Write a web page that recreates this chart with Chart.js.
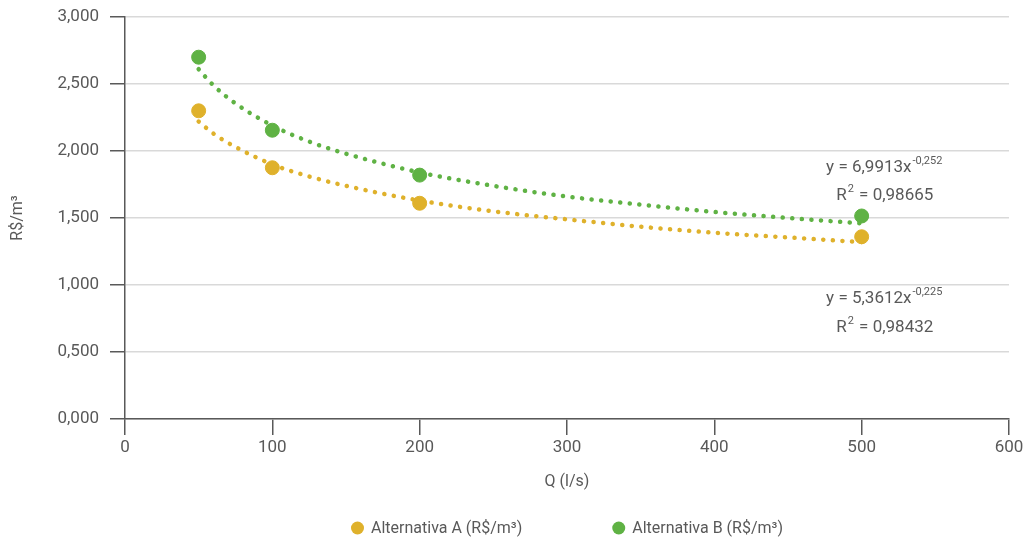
<!DOCTYPE html>
<html>
<head>
<meta charset="utf-8">
<script src="https://cdn.jsdelivr.net/npm/chart.js@4.4.1/dist/chart.umd.min.js"></script>
<style>
  html, body { margin: 0; padding: 0; background: #fff; }
  #wrap { width: 1034px; height: 542px; position: relative; }
</style>
</head>
<body>
<div id="wrap"><canvas id="chart"></canvas></div>
<script>
// observed points
const qValues = [50, 100, 200, 500];
const altA = [2.30, 1.875, 1.61, 1.36];
const altB = [2.70, 2.155, 1.82, 1.515];

// trend curves
const trendQ = [50, 60, 75, 100, 125, 150, 200, 250, 300, 350, 400, 450, 500];
const trendA = [2.22, 2.13, 2.03, 1.90, 1.81, 1.74, 1.63, 1.55, 1.49, 1.435, 1.39, 1.355, 1.32];
const trendB = [2.61, 2.49, 2.355, 2.19, 2.07, 1.98, 1.84, 1.74, 1.66, 1.60, 1.545, 1.50, 1.46];

const xTicks = [0, 100, 200, 300, 400, 500, 600];
const yTicks = [0, 0.5, 1, 1.5, 2, 2.5, 3];

const legendLabels = ['Alternativa A (R$/m³)', 'Alternativa B (R$/m³)'];
const eqA = ['y = 5,3612x', '-0,225', 'R', '2', ' = 0,98432'];
const eqB = ['y = 6,9913x', '-0,252', 'R', '2', ' = 0,98665'];

const colorA = '#DFB12B';
const colorB = '#5FB244';
const textColor = '#595959';
const FONT = "'Roboto', sans-serif";

Chart.defaults.font.family = FONT;
Chart.defaults.color = textColor;

const toXY = (xs, ys) => xs.map((x, i) => ({ x: x, y: ys[i] }));

// equation labels near the last point of each series
const equationPlugin = {
    id: 'equations',
    afterDatasetsDraw(chart) {
        const ctx = chart.ctx;
        const cx = chart.scales.x.getPixelForValue(515);
        const big = '17px ' + FONT;
        const small = '11px ' + FONT;
        function drawEq(parts, y1, y2) {
            ctx.save();
            ctx.fillStyle = textColor;
            ctx.textBaseline = 'alphabetic';
            ctx.font = big;
            const w1 = ctx.measureText(parts[0]).width;
            ctx.font = small;
            const w1s = ctx.measureText(parts[1]).width;
            let x = cx - (w1 + w1s) / 2;
            ctx.font = big;
            ctx.fillText(parts[0], x, y1);
            ctx.font = small;
            ctx.fillText(parts[1], x + w1 + 1, y1 - 8);

            ctx.font = big;
            const wR = ctx.measureText(parts[2]).width;
            const wRest = ctx.measureText(parts[4]).width;
            ctx.font = small;
            const w2 = ctx.measureText(parts[3]).width;
            x = cx - (wR + w2 + wRest) / 2;
            ctx.font = big;
            ctx.fillText(parts[2], x, y2);
            ctx.font = small;
            ctx.fillText(parts[3], x + wR + 1, y2 - 8);
            ctx.font = big;
            ctx.fillText(parts[4], x + wR + w2 + 2, y2);
            ctx.restore();
        }
        drawEq(eqB, 172, 200);
        drawEq(eqA, 303, 332);
    }
};

// legend below the x axis title, centred on the plot area
const legendPlugin = {
    id: 'bottomLegend',
    afterDraw(chart) {
        const ctx = chart.ctx;
        const area = chart.chartArea;
        const sets = chart.data.datasets.slice(0, 2);
        const r = 6.5, gapText = 7, gapItem = 90;
        ctx.save();
        ctx.font = '16px ' + FONT;
        ctx.textBaseline = 'middle';
        const widths = sets.map(d => ctx.measureText(d.label).width);
        const total = widths.reduce((s, w) => s + 2 * r + gapText + w, 0) + gapItem;
        let x = (area.left + area.right) / 2 - total / 2;
        const y = 528;
        sets.forEach((d, i) => {
            ctx.fillStyle = d.backgroundColor;
            ctx.beginPath();
            ctx.arc(x + r, y, r, 0, Math.PI * 2);
            ctx.fill();
            ctx.fillStyle = textColor;
            ctx.fillText(d.label, x + 2 * r + gapText, y + 1);
            x += 2 * r + gapText + widths[i] + gapItem;
        });
        ctx.restore();
    }
};

new Chart(document.getElementById('chart'), {
    type: 'scatter',
    data: {
        datasets: [
            {
                label: legendLabels[0],
                data: toXY(qValues, altA),
                backgroundColor: colorA,
                borderColor: colorA,
                pointRadius: 7,
                pointHoverRadius: 7,
                order: 1
            },
            {
                label: legendLabels[1],
                data: toXY(qValues, altB),
                backgroundColor: colorB,
                borderColor: colorB,
                pointRadius: 7,
                pointHoverRadius: 7,
                order: 1
            },
            {
                label: 'trendA',
                type: 'line',
                data: toXY(trendQ, trendA),
                borderColor: colorA,
                borderWidth: 4.5,
                borderDash: [0.1, 9.5],
                borderCapStyle: 'round',
                pointRadius: 0,
                cubicInterpolationMode: 'monotone',
                fill: false,
                order: 2
            },
            {
                label: 'trendB',
                type: 'line',
                data: toXY(trendQ, trendB),
                borderColor: colorB,
                borderWidth: 4.5,
                borderDash: [0.1, 9.5],
                borderCapStyle: 'round',
                pointRadius: 0,
                cubicInterpolationMode: 'monotone',
                fill: false,
                order: 2
            }
        ]
    },
    options: {
        responsive: true,
        maintainAspectRatio: false,
        animation: false,
        layout: { padding: { left: 0, right: 25, top: 0, bottom: 45 } },
        plugins: {
            tooltip: { enabled: false },
            legend: { display: false }
        },
        scales: {
            x: {
                type: 'linear',
                min: 0,
                max: 600,
                afterBuildTicks: axis => { axis.ticks = xTicks.map(v => ({ value: v })); },
                afterFit: axis => { axis.height = 78; },
                ticks: { color: textColor, font: { size: 17 }, padding: 3 },
                grid: { drawOnChartArea: false, tickLength: 16, tickColor: '#595959', lineWidth: 1.5 },
                border: { color: '#595959', width: 1.5 },
                title: { display: true, text: 'Q (l/s)', color: textColor, font: { size: 16 }, padding: { top: 5, bottom: 5 } }
            },
            y: {
                min: 0,
                max: 3,
                afterBuildTicks: axis => { axis.ticks = yTicks.map(v => ({ value: v })); },
                afterFit: axis => { axis.width = 125; axis.paddingTop = 17; },
                ticks: {
                    color: textColor,
                    font: { size: 17, lineHeight: 1 },
                    padding: 11,
                    callback: v => v.toFixed(3).replace('.', ',')
                },
                grid: { color: '#D9D9D9', lineWidth: 1.5, tickLength: 15, tickColor: '#595959' },
                border: { color: '#595959', width: 1.5 },
                title: { display: true, text: 'R$/m³', color: textColor, font: { size: 16 }, padding: { top: 8, bottom: 8 } }
            }
        }
    },
    plugins: [equationPlugin, legendPlugin]
});
</script>
</body>
</html>
